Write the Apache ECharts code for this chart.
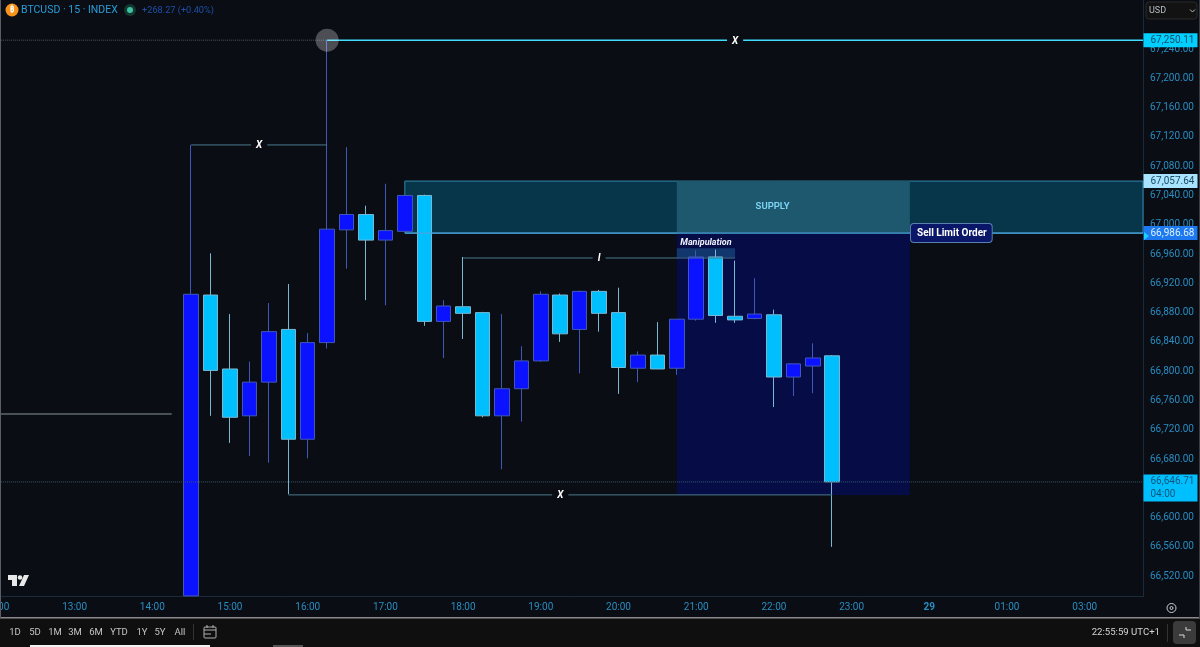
<!doctype html>
<html><head><meta charset="utf-8"></head>
<body style="margin:0;background:#0a0d14">
<div id="container" style="width:1200px;height:647px"></div>
<script src="https://cdn.jsdelivr.net/npm/echarts@6/dist/echarts.min.js"></script>
<script>
// candles, times are minutes from midnight of the 28th
// first candle opens below the visible range, so its open/low sit at the bottom edge
var candleTimes = [870,885,900,915,930,945,960,975,990,1005,1020,1035,1050,1065,1080,1095,1110,1125,1140,1155,1170,1185,1200,1215,1230,1245,1260,1275,1290,1305,1320,1335,1350,1365];
var opens  = [66491,66902,66801,66737,66783,66855,66705,66837,66991,67012,66977,66989,67038,66866,66886,66878,66737,66774,66812,66902,66855,66907,66878,66802,66820,66802,66869,66954,66873,66870,66875,66790,66805,66819];
var closes = [66903,66799,66735,66783,66852,66705,66837,66992,67012,66977,66990,67038,66866,66887,66877,66737,66774,66812,66903,66849,66907,66877,66803,66820,66801,66869,66954,66874,66868,66876,66790,66808,66816,66646.71];
var lows   = [66491,66737,66700,66682,66673,66630,66679,66829,66938,66895,66888,66988,66860,66816,66842,66735,66664,66729,66811,66838,66795,66852,66767,66783,66801,66793,66867,66864,66864,66869,66749,66764,66768,66558];
var highs  = [67107,66959,66876,66811,66891,66917,66850,67250.11,67104,67024,67054,67039,67039,66895,66954,66879,66876,66832,66907,66904,66908,66909,66912,66825,66865,66869,66963,66964,66949,66925,66882,66808,66836,66820];

var priceTicks = [66520,66560,66600,66640,66680,66720,66760,66800,66840,66880,66920,66960,67000,67040,67080,67120,67160,67200,67240];
var timeTicks = [720,780,840,900,960,1020,1080,1140,1200,1260,1320,1380,1440,1500,1560];
var timeLabels = ['12:00','13:00','14:00','15:00','16:00','17:00','18:00','19:00','20:00','21:00','22:00','23:00','29','01:00','03:00'];

// levels
var highLevel = 67250.11, zoneTop = 67057.64, entry = 66986.68, lastPrice = 66646.71;
var targetLevel = 66629, upperX = 67107, innerI = 66952.6, oldLevel = 66739.5;
var manipTop = 66966, manipBottom = 66953.5;

var xMin = 720, xMax = 1605, yMin = 66490.2, yMax = 67305;
var bg = '#0a0d14';
var axisFont = 'Roboto';

var myChart = echarts.init(document.getElementById('container'));

var candleData = candleTimes.map(function (t, i) {
    return [t, opens[i], closes[i], lows[i], highs[i]];
});

function seg(x1, y1, x2, y2, color, width, type) {
    return {
        type: 'line', silent: true, z: 4, symbol: 'none', animation: false,
        data: [[x1, y1], [x2, y2]],
        lineStyle: {color: color, width: width || 1, type: type || 'solid'}
    };
}
function note(x, y, text, style) {
    return {
        type: 'scatter', silent: true, z: 6, clip: false, symbolSize: 1, animation: false,
        itemStyle: {color: 'rgba(0,0,0,0)', opacity: 1},
        data: [[x, y]],
        label: Object.assign({show: true, position: 'inside', formatter: text, fontFamily: axisFont, offset: [0, 1]}, style)
    };
}
function tag(y, text, back, fill, extra) {
    return {
        type: 'scatter', silent: true, z: 8, clip: false, symbolSize: 1, animation: false,
        itemStyle: {color: 'rgba(0,0,0,0)', opacity: 1},
        data: [[xMax, y]],
        label: Object.assign({
            show: true, position: 'right', distance: 0, formatter: text, color: fill,
            fontFamily: axisFont, fontSize: 10, lineHeight: 14, align: 'left',
            backgroundColor: back, width: 47, padding: [0, 0, 0, 7]
        }, extra || {})
    };
}
function area(x1, y1, x2, y2, fill, border, z) {
    return {
        type: 'line', silent: true, symbol: 'none', data: [], animation: false,
        markArea: {
            silent: true, z: z, animation: false,
            itemStyle: {color: fill, borderColor: border || 'transparent', borderWidth: border ? 1 : 0},
            data: [[{coord: [x1, y1]}, {coord: [x2, y2]}]]
        }
    };
}
var xLabel = {color: '#fff', fontSize: 10, fontWeight: 'bold', fontStyle: 'italic', backgroundColor: bg, padding: [0, 5]};

var series = [
    area(1035, zoneTop, xMax, entry, '#07364a', '#2f86ad', 0.1),
    area(1245, entry, 1425, targetLevel, '#060c45', null, 0.2),
    area(1245, zoneTop, 1425, entry, '#1e586f', null, 0.3),
    area(1245, manipTop, 1290, manipBottom, '#12376e', null, 0.4),
    {
        type: 'candlestick', z: 2, barWidth: 15, animation: false, silent: true, clip: true,
        data: candleData,
        itemStyle: {color: '#0a12ff', color0: '#00bfff', borderColor: '#4058b8', borderColor0: '#79b8d2', borderWidth: 1}
    },
    seg(720, highLevel, 975, highLevel, '#4d5561', 1, 'dotted'),
    seg(720, lastPrice, xMax, lastPrice, '#3b5a6b', 1, 'dotted'),
    seg(975, highLevel, xMax, highLevel, '#3fdcff', 1.5),
    seg(870, upperX, 975, upperX, '#4b7a8e'),
    seg(1080, innerI, 1290, innerI, '#4b7a8e'),
    seg(945, targetLevel, 1365, targetLevel, '#4b7a8e'),
    seg(720, oldLevel, 855, oldLevel, '#87959c'),
    seg(1035, entry, xMax, entry, '#4aa4dc', 1.2),
    {
        type: 'scatter', silent: true, z: 5, symbolSize: 23, animation: false,
        itemStyle: {color: 'rgba(255,255,255,0.27)', opacity: 1},
        data: [[975, highLevel]]
    },
    note(1290, highLevel, 'X', xLabel),
    note(922.5, upperX, 'X', xLabel),
    note(1155, targetLevel, 'X', xLabel),
    note(1185, innerI, 'I', xLabel),
    note(1319, 67023.6, 'SUPPLY', {color: '#7fd6f5', fontSize: 9.5, fontWeight: 600}),
    note(1267.5, 66974.4, 'Manipulation', {color: '#f0f2ff', fontSize: 9, fontWeight: 'bold', fontStyle: 'italic'}),
    note(1457, entry, 'Sell Limit Order', {
        color: '#fff', fontSize: 10, fontWeight: 'bold', backgroundColor: '#0a1668',
        borderColor: '#5a7fb0', borderWidth: 1, borderRadius: 3, padding: [4, 5, 4, 6], offset: [0, 0]
    }),
    tag(highLevel, '67,250.11', '#00cfff', '#124c62'),
    tag(zoneTop, '67,057.64', '#a8e4ff', '#1c4a60'),
    tag(entry, '66,986.68', '#1e78f0', '#d8f2ff'),
    tag(lastPrice, '66,646.71\n04:00', '#00bfff', '#0f5578', {lineHeight: 12.5, offset: [0, 6], padding: [1, 0, 1, 7]})
];

function txt(x, y, text, fill, font, align) {
    return {type: 'text', silent: true, z: 20, style: {
        x: x, y: y, text: text, fill: fill, font: font || '10.5px Roboto',
        textAlign: align || 'left', textVerticalAlign: 'middle'
    }};
}
function rect(x, y, w, h, fill, r, stroke) {
    return {type: 'rect', silent: true, z: 15,
        shape: {x: x, y: y, width: w, height: h, r: r || 0},
        style: {fill: fill, stroke: stroke || null}};
}
function line(x1, y1, x2, y2, color) {
    return {type: 'line', silent: true, z: 21,
        shape: {x1: x1, y1: y1, x2: x2, y2: y2},
        style: {stroke: color, lineWidth: 1}};
}

var ranges = [['1D',15],['5D',35],['1M',55],['3M',75],['6M',96],['YTD',119],['1Y',142],['5Y',160],['All',180]];
var chrome = [
    rect(0, 618, 1200, 29, '#0f0f0f'),
    rect(0, 617, 1200, 1.5, '#8a8a8a'),
    rect(0, 0, 1, 618, '#5a5d63'),
    rect(1199, 0, 1, 618, '#3a3d42'),
    rect(30, 645, 180, 2, '#f2f2f2'),
    rect(273, 645, 30, 2, '#555'),
    // header
    {type: 'circle', silent: true, z: 20, shape: {cx: 12, cy: 10, r: 6.5}, style: {fill: '#f7931a'}},
    txt(12, 10, '₿', '#fff', 'bold 8px "Noto Sans"', 'center'),
    txt(21, 10.5, 'BTCUSD · 15 · INDEX', '#2a9bd6', '10.5px Roboto'),
    {type: 'circle', silent: true, z: 20, shape: {cx: 130, cy: 10, r: 6}, style: {fill: '#12382f'}},
    {type: 'circle', silent: true, z: 21, shape: {cx: 130, cy: 10, r: 3}, style: {fill: '#3fc2a2'}},
    txt(142, 10.5, '+268.27 (+0.40%)', '#1f4fa8', '9.2px Roboto'),
    // currency box
    rect(1146, 2, 51, 17, '#121212', 3, '#2a2a2a'),
    txt(1149, 10.5, 'USD', '#b8bcc4', '9px Roboto'),
    {type: 'polyline', silent: true, z: 21, shape: {points: [[1190, 9.5], [1192.5, 12], [1195, 9.5]]}, style: {stroke: '#b8bcc4', fill: null}},
    // price arrow
    {type: 'polygon', silent: true, z: 21, shape: {points: [[1144, 232], [1144, 240], [1149, 236]]}, style: {fill: '#19d3ff'}},
    // logo
    {type: 'polygon', silent: true, z: 20, shape: {points: [[8, 575], [17, 575], [17, 586], [12, 586], [12, 580], [8, 580]]}, style: {fill: '#e8e8e8'}},
    {type: 'circle', silent: true, z: 20, shape: {cx: 20, cy: 577.5, r: 2.3}, style: {fill: '#e8e8e8'}},
    {type: 'polygon', silent: true, z: 20, shape: {points: [[24, 575], [29, 575], [24, 586], [19, 586]]}, style: {fill: '#e8e8e8'}},
    // settings gear
    {type: 'circle', silent: true, z: 20, shape: {cx: 1171.5, cy: 608, r: 4.5}, style: {fill: null, stroke: '#c9ced6', lineWidth: 1}},
    {type: 'circle', silent: true, z: 20, shape: {cx: 1171.5, cy: 608, r: 1.5}, style: {fill: null, stroke: '#c9ced6', lineWidth: 1}},
    // toolbar
    line(193.5, 624, 193.5, 640, '#333'),
    {type: 'rect', silent: true, z: 21, shape: {x: 204, y: 627, width: 12, height: 11, r: 1}, style: {fill: null, stroke: '#b0b0b0'}},
    line(204, 630, 216, 630, '#b0b0b0'),
    line(207, 625, 207, 628, '#b0b0b0'),
    line(213, 625, 213, 628, '#b0b0b0'),
    line(204, 634, 211, 634, '#b0b0b0'),
    txt(1160, 633, '22:55:59 UTC+1', '#d4d4d4', '9.6px Roboto', 'right'),
    line(1167.5, 624, 1167.5, 642, '#333'),
    rect(1173, 621, 23, 23, '#3b3b3b', 4),
    line(1179, 635, 1184, 635, '#d8d8d8'),
    line(1184, 635, 1184, 638, '#d8d8d8'),
    line(1186, 630, 1191, 630, '#d8d8d8'),
    line(1186, 627, 1186, 630, '#d8d8d8')
].concat(ranges.map(function (r) {
    return txt(r[1], 633, r[0], '#c4c4c4', '9.5px Roboto', 'center');
}));

var option = {
    backgroundColor: bg,
    animation: false,
    grid: {left: -3.1, right: 57, top: 0, bottom: 50.5, containLabel: false, outerBoundsMode: 'none'},
    xAxis: {
        type: 'value', min: xMin, max: xMax,
        splitLine: {show: false},
        axisTick: {show: false},
        axisLine: {show: true, onZero: false, lineStyle: {color: '#1a2c3a'}},
        axisLabel: {
            customValues: timeTicks, margin: 6, fontSize: 10, fontFamily: axisFont, color: '#2a8cc0',
            formatter: function (v) {
                var s = timeLabels[timeTicks.indexOf(v)];
                return s === '29' ? '{b|29}' : s;
            },
            rich: {b: {fontWeight: 'bold', fontSize: 10, color: '#2a8cc0', fontFamily: axisFont}}
        }
    },
    yAxis: {
        type: 'value', position: 'right', min: yMin, max: yMax,
        splitLine: {show: false},
        axisTick: {show: false},
        axisLine: {show: true, onZero: false, lineStyle: {color: '#1a2c3a'}},
        axisLabel: {
            customValues: priceTicks, margin: 7, fontSize: 10, fontFamily: axisFont, color: '#2a8cc0',
            formatter: function (v) {
                return '{p|' + v.toLocaleString('en-US', {minimumFractionDigits: 2, maximumFractionDigits: 2}) + '}';
            },
            rich: {p: {fontSize: 10, fontFamily: axisFont, color: '#2a8cc0', padding: [3, 0, 0, 0]}}
        }
    },
    series: series,
    graphic: {elements: chrome}
};
myChart.setOption(option);
</script>
</body></html>
